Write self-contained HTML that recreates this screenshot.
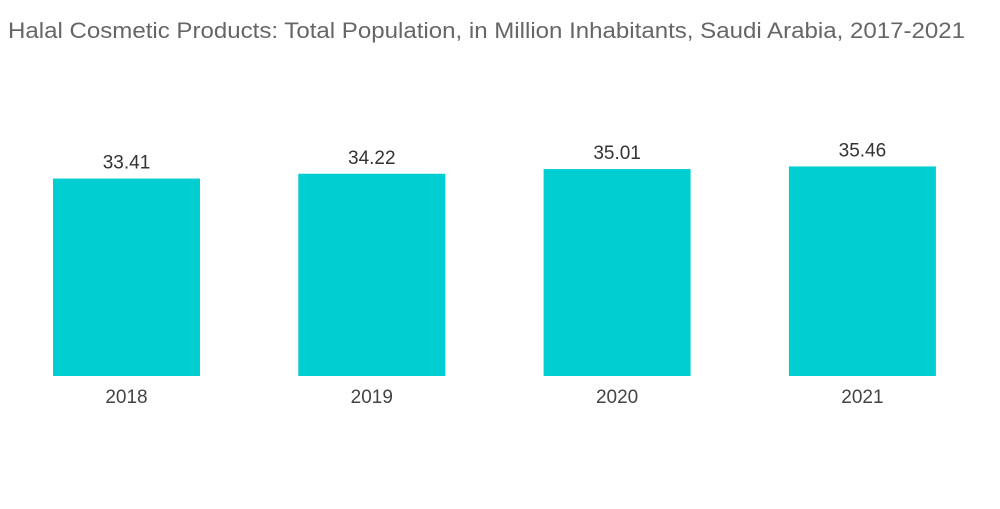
<!DOCTYPE html>
<html><head><meta charset="utf-8"><style>
body{margin:0;background:#fff;width:1000px;height:504px;overflow:hidden;font-family:"Liberation Sans",sans-serif}
</style></head><body>
<svg width="1000" height="504">
<text x="8" y="38" font-size="22" fill="#666" textLength="957" lengthAdjust="spacingAndGlyphs">Halal Cosmetic Products: Total Population, in Million Inhabitants, Saudi Arabia, 2017-2021</text>
<g id="bars"></g>
</svg>
<script>
const categories=["2018","2019","2020","2021"];
const values=[33.41,34.22,35.01,35.46];
const valueLabels=["33.41","34.22","35.01","35.46"];
const baseY=376, scale=5.91, bandStart=53, bandStep=245.3, barW=147;
const y=v=>baseY-v*scale;
const g=document.getElementById('bars');
const ns="http://www.w3.org/2000/svg";
categories.forEach((c,i)=>{
  const x=bandStart+i*bandStep;
  const r=document.createElementNS(ns,'rect');
  r.setAttribute('x',x);r.setAttribute('y',y(values[i]));
  r.setAttribute('width',barW);r.setAttribute('height',baseY-y(values[i]));
  r.setAttribute('fill','#00ced1');
  
  
  g.appendChild(r);
  const t=document.createElementNS(ns,'text');
  t.setAttribute('x',x+barW/2);t.setAttribute('y',y(values[i])-10);
  t.setAttribute('text-anchor','middle');t.setAttribute('font-size','19');t.setAttribute('fill','#333');
  t.textContent=valueLabels[i];
  
  
  g.appendChild(t);
  const l=document.createElementNS(ns,'text');
  l.setAttribute('x',x+barW/2);l.setAttribute('y',403);
  l.setAttribute('text-anchor','middle');l.setAttribute('font-size','19');l.setAttribute('fill','#444');
  l.textContent=c;
  
  
  g.appendChild(l);
});
</script>
</body></html>
